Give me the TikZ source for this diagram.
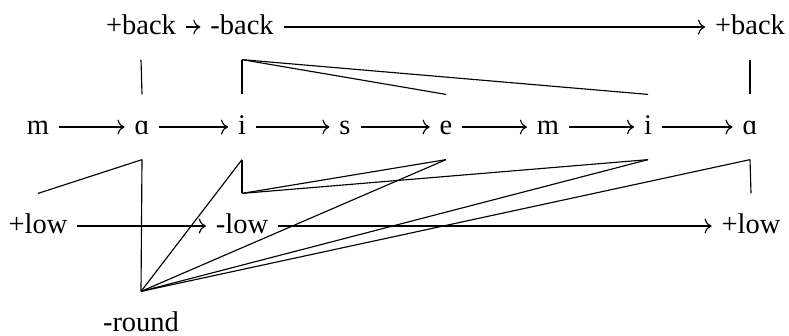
\documentclass[tikz,border=0pt]{standalone}
\usepackage{fontspec}
\setmainfont{Liberation Serif}
\usetikzlibrary{arrows.meta}
\tikzset{
  seg/.style={inner xsep=3.3pt, inner ysep=0pt, minimum height=22.5pt,
              text height=7pt, text depth=2pt},
  feat/.style={seg},
  arr/.style={-{Computer Modern Rightarrow}, line width=0.4pt},
  link/.style={line width=0.4pt},
}

\begin{document}
\begin{tikzpicture}[x=0.351pt, y=-0.351pt]
\useasboundingbox (0,0) rectangle (789,335);
% the segments
\node[seg] (m1) at (38,127) {m};
\node[seg] (a1) at (142,127) {ɑ};
\node[seg] (i1) at (242,127) {i};
\node[seg] (s1) at (345,127) {s};
\node[seg] (e1) at (446,127) {e};
\node[seg] (m2) at (548,127) {m};
\node[seg] (i2) at (648,127) {i};
\node[seg] (a2) at (750,127) {ɑ};
\foreach \a/\b in {m1/a1,a1/i1,i1/s1,s1/e1,e1/m2,m2/i2,i2/a2} {
  \draw[arr] (\a) -- (\b);
}
% backness
\node[feat] (bk1) at (141,27) {+back};
\node[feat] (bk2) at (242,27) {-back};
\node[feat] (bk3) at (750,27) {+back};
\draw[arr] (bk1) -- (bk2);
\draw[arr] (bk2) -- (bk3);
\draw[link] (bk1.south) -- (a1.north);
\draw[link] (bk3.south) -- (a2.north);
\foreach \t in {i1,e1,i2} {
  \draw[link] (bk2.south) -- (\t.north);
}
% height
\node[feat] (lw1) at (38,226) {+low};
\node[feat] (lw2) at (242,226) {-low};
\node[feat] (lw3) at (751,226) {+low};
\draw[arr] (lw1) -- (lw2);
\draw[arr] (lw2) -- (lw3);
\draw[link] (lw1.north) -- (a1.south);
\draw[link] (lw3.north) -- (a2.south);
\foreach \t in {i1,e1,i2} {
  \draw[link] (lw2.north) -- (\t.south);
}
% rounding
\node[feat] (rnd) at (141,324) {-round};
\foreach \t in {a1,i1,e1,i2,a2} {
  \draw[link] (rnd.north) -- (\t.south);
}
\end{tikzpicture}
\end{document}
